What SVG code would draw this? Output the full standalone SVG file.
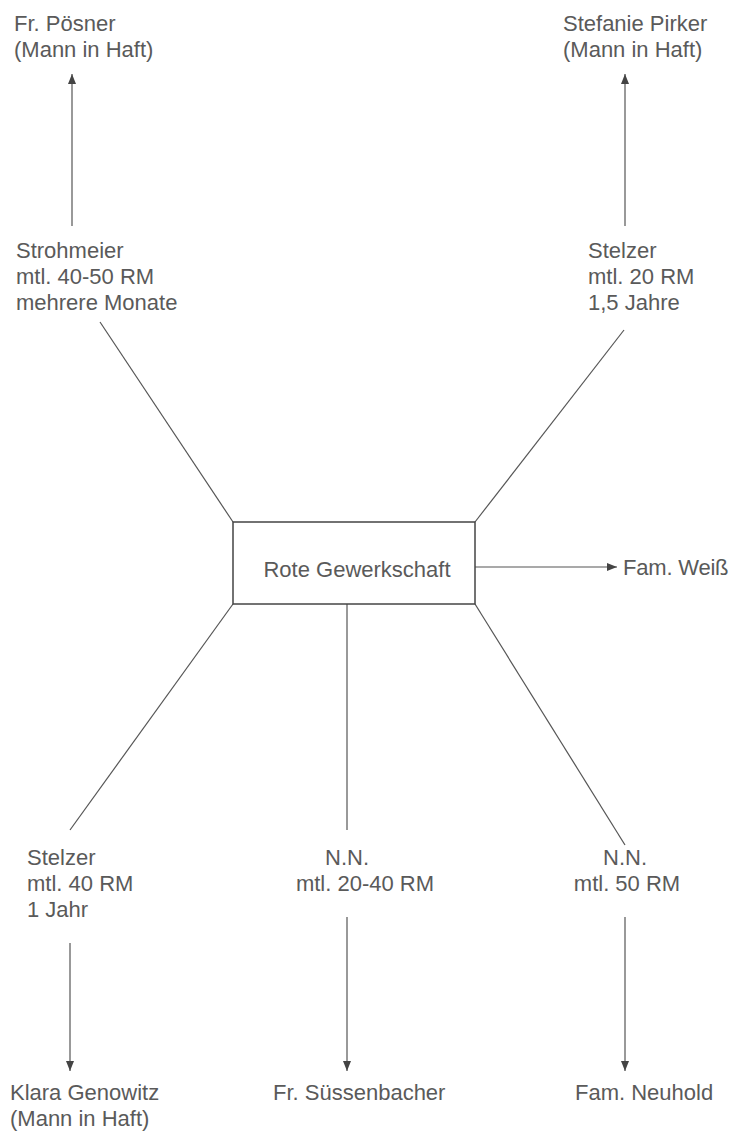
<svg xmlns="http://www.w3.org/2000/svg" width="732" height="1135" viewBox="0 0 732 1135">
<defs>
<marker id="ah" viewBox="0 0 10 10" refX="10" refY="5" markerWidth="10" markerHeight="10" markerUnits="userSpaceOnUse" orient="auto">
<path d="M0,1 L10,5 L0,9 Z" fill="#444"/>
</marker>
<style>
text{font-family:"Liberation Sans",Arial,sans-serif;font-size:22px;fill:#5a5a5a}
.ln{stroke:#555;stroke-width:1.2;fill:none}
.ar{stroke:#555;stroke-width:1.2;fill:none;marker-end:url(#ah)}
.box{fill:#fff;stroke:#444;stroke-width:1.5}
</style>
</defs>
<rect width="732" height="1135" fill="#fff"/>
<g id="connectors">
<line class="ar" x1="72" y1="226" x2="72" y2="74"/>
<line class="ar" x1="625" y1="226" x2="625" y2="74"/>
<line class="ln" x1="100" y1="322" x2="233" y2="522"/>
<line class="ln" x1="624" y1="330" x2="475" y2="522"/>
<line class="ar" x1="475" y1="567" x2="617" y2="567"/>
<line class="ln" x1="233" y1="604" x2="70" y2="830"/>
<line class="ln" x1="347" y1="604" x2="347" y2="830"/>
<line class="ln" x1="475" y1="604" x2="625" y2="845"/>
<line class="ar" x1="70" y1="943" x2="70" y2="1071"/>
<line class="ar" x1="347" y1="917" x2="347" y2="1071"/>
<line class="ar" x1="625" y1="917" x2="625" y2="1071"/>
</g>
<g id="center"><rect class="box" x="233" y="522" width="242" height="82"/><text x="357" y="577" text-anchor="middle">Rote Gewerkschaft</text></g>
<g id="poesner"><text x="14" y="31">Fr. Pösner</text><text x="14" y="57">(Mann in Haft)</text></g>
<g id="pirker"><text x="563" y="31">Stefanie Pirker</text><text x="563" y="57">(Mann in Haft)</text></g>
<g id="strohmeier"><text x="16" y="258">Strohmeier</text><text x="16" y="284">mtl. 40-50 RM</text><text x="16" y="310">mehrere Monate</text></g>
<g id="stelzer1"><text x="588" y="258">Stelzer</text><text x="588" y="284">mtl. 20 RM</text><text x="588" y="310">1,5 Jahre</text></g>
<g id="weiss"><text x="623" y="575" letter-spacing="-0.2">Fam. Weiß</text></g>
<g id="stelzer2"><text x="27" y="865">Stelzer</text><text x="27" y="891">mtl. 40 RM</text><text x="27" y="917">1 Jahr</text></g>
<g id="nn1"><text x="347" y="865" text-anchor="middle">N.N.</text><text x="365" y="891" text-anchor="middle">mtl. 20-40 RM</text></g>
<g id="nn2"><text x="625" y="865" text-anchor="middle">N.N.</text><text x="627" y="891" text-anchor="middle">mtl. 50 RM</text></g>
<g id="genowitz"><text x="10" y="1100">Klara Genowitz</text><text x="10" y="1126">(Mann in Haft)</text></g>
<g id="suessenbacher"><text x="273" y="1100">Fr. Süssenbacher</text></g>
<g id="neuhold"><text x="575" y="1100">Fam. Neuhold</text></g>
</svg>
